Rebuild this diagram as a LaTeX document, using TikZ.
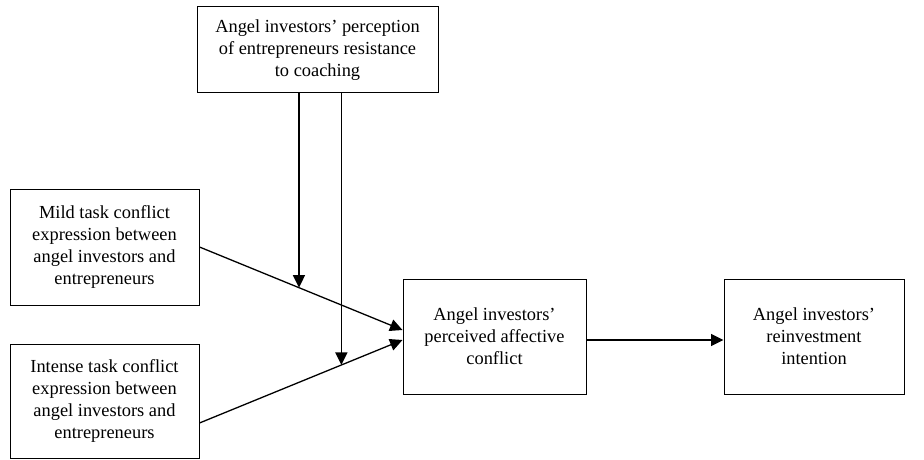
\documentclass[tikz,border=0pt]{standalone}
\usepackage{fontspec}
\setmainfont{Liberation Serif}
\usetikzlibrary{arrows.meta,calc}
\begin{document}
\begin{tikzpicture}[x=1pt,y=-1pt,
  box/.style={draw,line width=1pt,align=center,inner sep=0pt,font=\fontsize{18.4}{21.8}\selectfont},
  arr/.style={line width=1.3pt,-{Triangle[length=12.5pt,width=12pt]}}]
\useasboundingbox (0,0) rectangle (924,460);
\node[box,minimum width=241,minimum height=86] (top) at (317.5,50) {Angel investors’ perception\\of entrepreneurs resistance\\to coaching};
\node[box,minimum width=189,minimum height=116] (mild) at (104.5,247) {Mild task conflict\\expression between\\angel investors and\\entrepreneurs};
\node[box,minimum width=189,minimum height=114] (intense) at (104.5,401) {Intense task conflict\\expression between\\angel investors and\\entrepreneurs};
\node[box,minimum width=183,minimum height=115] (central) at (494.5,336.5) {Angel investors’\\perceived affective\\conflict};
\node[box,minimum width=180,minimum height=115] (right) at (814,336.5) {Angel investors’\\reinvestment\\intention};
\coordinate (ms) at (mild.east);
\coordinate (is) at ($(intense.east)+(0,22)$);
\coordinate (me) at ($(central.west)+(0,-6.5)$);
\coordinate (ie) at ($(central.west)+(0,3.5)$);
\coordinate (m1) at ($(ms)!0.49!(me)$);
\coordinate (i1) at ($(is)!0.699!(ie)$);
\draw[arr] (ms) -- (me);
\draw[arr] (is) -- (ie);
\draw[arr] (m1 |- top.south) -- (m1);
\draw[arr] (i1 |- top.south) -- (i1);
\draw[arr] ($(central.east)+(0,3.5)$) -- ($(right.west)+(0,3.5)$);
\end{tikzpicture}
\end{document}
